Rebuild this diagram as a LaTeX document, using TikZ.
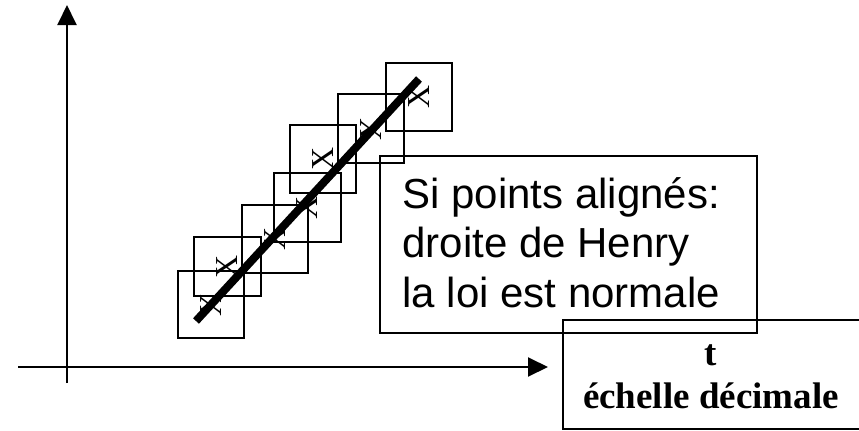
\documentclass[tikz,border=0pt]{standalone}
\usepackage{fontspec}
\setmainfont{Liberation Serif}
\newfontfamily\arialfont{Liberation Sans}
\usetikzlibrary{arrows.meta}

\tikzset{
  axis/.style={line width=1pt,-{Triangle[length=10pt,width=9.5pt]}},
  ptbox/.style={draw,line width=1pt,inner sep=0pt},
  ptmark/.style={rotate=90,inner sep=0pt,font=\fontsize{16}{16}\selectfont},
  henry/.style={line width=4pt},
  framebox/.style={draw,line width=1pt,inner sep=0pt,anchor=north west},
}

\begin{document}
\begin{tikzpicture}[x=0.5pt,y=-0.5pt]
\useasboundingbox (0,0) rectangle (859,430);

% axes
\coordinate (xs) at (18,367);
\coordinate (xe) at (548,367);
\coordinate (ys) at (67,383);
\coordinate (ye) at (67,5);
\draw[axis] (xs) -- (xe);
\draw[axis] (ys) -- (ye);

% boxes round the points
\foreach \i/\xa/\ya/\xb/\yb in {1/178/271/244/338,2/194/237/261/296,3/242/205/308/273,
  4/274/173/341/242,5/290/125/356/193,6/338/94/404/163,7/386/63/452/131} {
  \draw[line width=1pt] (\xa,\ya) rectangle (\xb,\yb);
  \node[ptmark] (p\i) at ({(\xa+\xb)/2},{(\ya+\yb)/2}) {X};
}

% droite de Henry
\coordinate (lo) at (196,321);
\coordinate (hi) at (419,79);
\draw[henry] (lo) -- (hi);

% text boxes
\node[framebox,minimum width=188.5pt,minimum height=88.5pt] (note) at (379,155) {};
\node[anchor=base west,align=left,inner sep=0pt,
  font=\arialfont\fontsize{21}{24.75}\selectfont] (notetxt) at (402,307)
  {Si points alignés:\\droite de Henry\\la loi est normale};

\node[framebox,minimum width=200pt,minimum height=54.5pt] (scale) at (562,319) {};
\node[anchor=base,align=center,inner sep=0pt,
  font=\bfseries\fontsize{18.5}{21.5}\selectfont] (scaletxt) at (711,408)
  {t\\échelle décimale};
\end{tikzpicture}
\end{document}
